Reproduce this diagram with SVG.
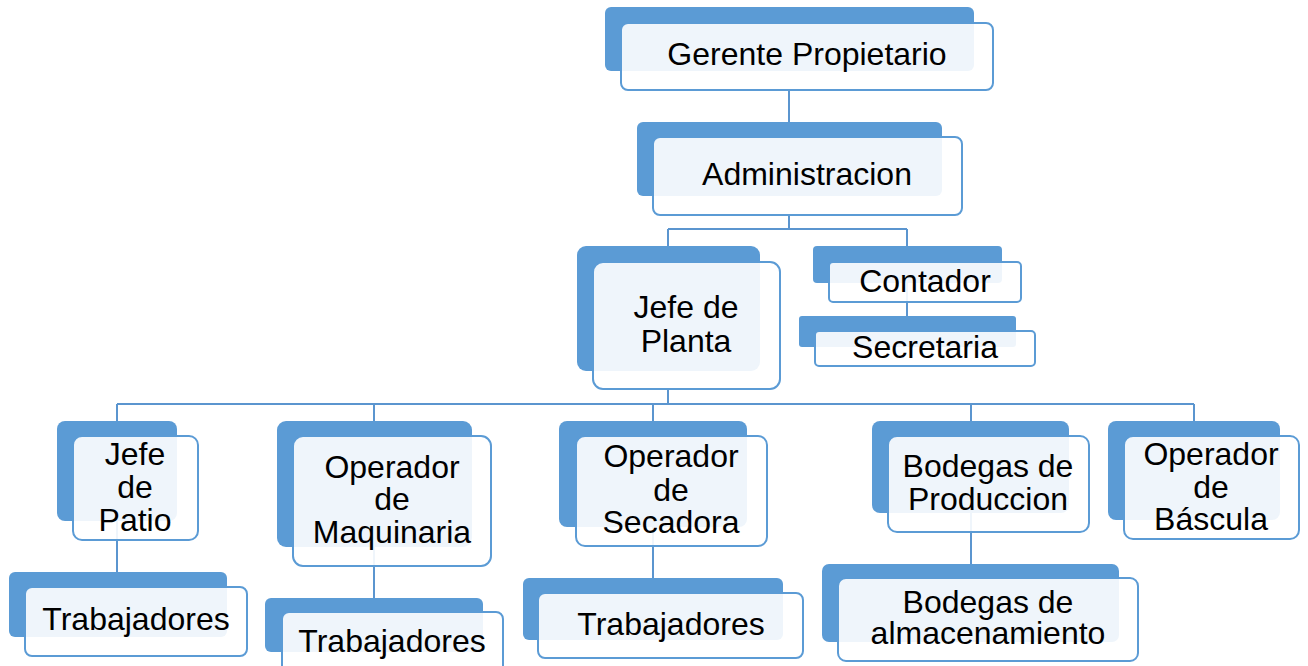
<svg xmlns="http://www.w3.org/2000/svg" width="1308" height="666" viewBox="0 0 1308 666">
<style>
.bk{fill:#5b9bd5}
.fr{fill:#ffffff;fill-opacity:0.9;stroke:#5b9bd5;stroke-width:2}
.t{font-family:"Liberation Sans",Arial,sans-serif;font-size:32px;fill:#000;text-anchor:middle}
.c{fill:none;stroke:#5b95cf;stroke-width:2}
</style>
<rect width="1308" height="666" fill="#fff"/>
<g id="connectors">
<path class="c" d="M789 90V122"/>
<path class="c" d="M789 215V229M668 229H907M668 229V246M907 229V246"/>
<path class="c" d="M907 283V316"/>
<path class="c" d="M668 389V404M117 404H1194M117 404V421M374 404V421M653 404V421M971 404V421M1194 404V421"/>
<path class="c" d="M117 521V572"/>
<path class="c" d="M374 547V598"/>
<path class="c" d="M653 527V578"/>
<path class="c" d="M971 513V564"/>
</g>
<g id="gerente">
<rect class="bk" x="605" y="7" width="369" height="64" rx="6"/>
<rect class="fr" x="621" y="23" width="372" height="67" rx="7"/>
<text class="t" x="807" y="65">Gerente Propietario</text>
</g>
<g id="administracion">
<rect class="bk" x="637" y="122" width="305" height="74" rx="6"/>
<rect class="fr" x="653" y="137" width="309" height="78" rx="7"/>
<text class="t" x="807" y="185">Administracion</text>
</g>
<g id="jefe-planta">
<rect class="bk" x="577" y="246" width="183" height="125" rx="9"/>
<rect class="fr" x="593" y="262" width="187" height="127" rx="10"/>
<text class="t" x="686" y="318">Jefe de<tspan x="686" y="352">Planta</tspan></text>
</g>
<g id="contador">
<rect class="bk" x="813" y="246" width="189" height="37" rx="4"/>
<rect class="fr" x="829" y="262" width="192" height="40" rx="4"/>
<text class="t" x="925" y="292">Contador</text>
</g>
<g id="secretaria">
<rect class="bk" x="799" y="316" width="217" height="31" rx="3"/>
<rect class="fr" x="815" y="331" width="220" height="35" rx="4"/>
<text class="t" x="925" y="358">Secretaria</text>
</g>
<g id="jefe-patio">
<rect class="bk" x="57" y="421" width="120" height="100" rx="8"/>
<rect class="fr" x="73" y="436" width="125" height="104" rx="9"/>
<text class="t" x="135" y="465">Jefe<tspan x="135" y="498">de</tspan><tspan x="135" y="531">Patio</tspan></text>
</g>
<g id="trabajadores-1">
<rect class="bk" x="9" y="572" width="218" height="65" rx="6"/>
<rect class="fr" x="25" y="587" width="222" height="69" rx="7"/>
<text class="t" x="136" y="630">Trabajadores</text>
</g>
<g id="operador-maquinaria">
<rect class="bk" x="277" y="421" width="195" height="126" rx="9"/>
<rect class="fr" x="293" y="436" width="198" height="130" rx="10"/>
<text class="t" x="392" y="478">Operador<tspan x="392" y="510">de</tspan><tspan x="392" y="543">Maquinaria</tspan></text>
</g>
<g id="trabajadores-2">
<rect class="bk" x="265" y="598" width="218" height="54" rx="6"/>
<rect class="fr" x="282" y="612" width="221" height="70" rx="7"/>
<text class="t" x="392" y="652">Trabajadores</text>
</g>
<g id="operador-secadora">
<rect class="bk" x="559" y="421" width="188" height="106" rx="8"/>
<rect class="fr" x="576" y="436" width="191" height="110" rx="9"/>
<text class="t" x="671" y="467">Operador<tspan x="671" y="501">de</tspan><tspan x="671" y="533">Secadora</tspan></text>
</g>
<g id="trabajadores-3">
<rect class="bk" x="523" y="578" width="260" height="62" rx="6"/>
<rect class="fr" x="538" y="593" width="265" height="65" rx="7"/>
<text class="t" x="671" y="635">Trabajadores</text>
</g>
<g id="bodegas-produccion">
<rect class="bk" x="872" y="421" width="197" height="92" rx="8"/>
<rect class="fr" x="888" y="436" width="201" height="96" rx="9"/>
<text class="t" x="988" y="477">Bodegas de<tspan x="988" y="510">Produccion</tspan></text>
</g>
<g id="bodegas-almacenamiento">
<rect class="bk" x="822" y="564" width="297" height="78" rx="7"/>
<rect class="fr" x="838" y="578" width="300" height="83" rx="8"/>
<text class="t" x="988" y="613">Bodegas de<tspan x="988" y="644">almacenamiento</tspan></text>
</g>
<g id="operador-bascula">
<rect class="bk" x="1108" y="421" width="172" height="99" rx="8"/>
<rect class="fr" x="1124" y="436" width="175" height="103" rx="9"/>
<text class="t" x="1211" y="465">Operador<tspan x="1211" y="498">de</tspan><tspan x="1211" y="530">Báscula</tspan></text>
</g>
</svg>
